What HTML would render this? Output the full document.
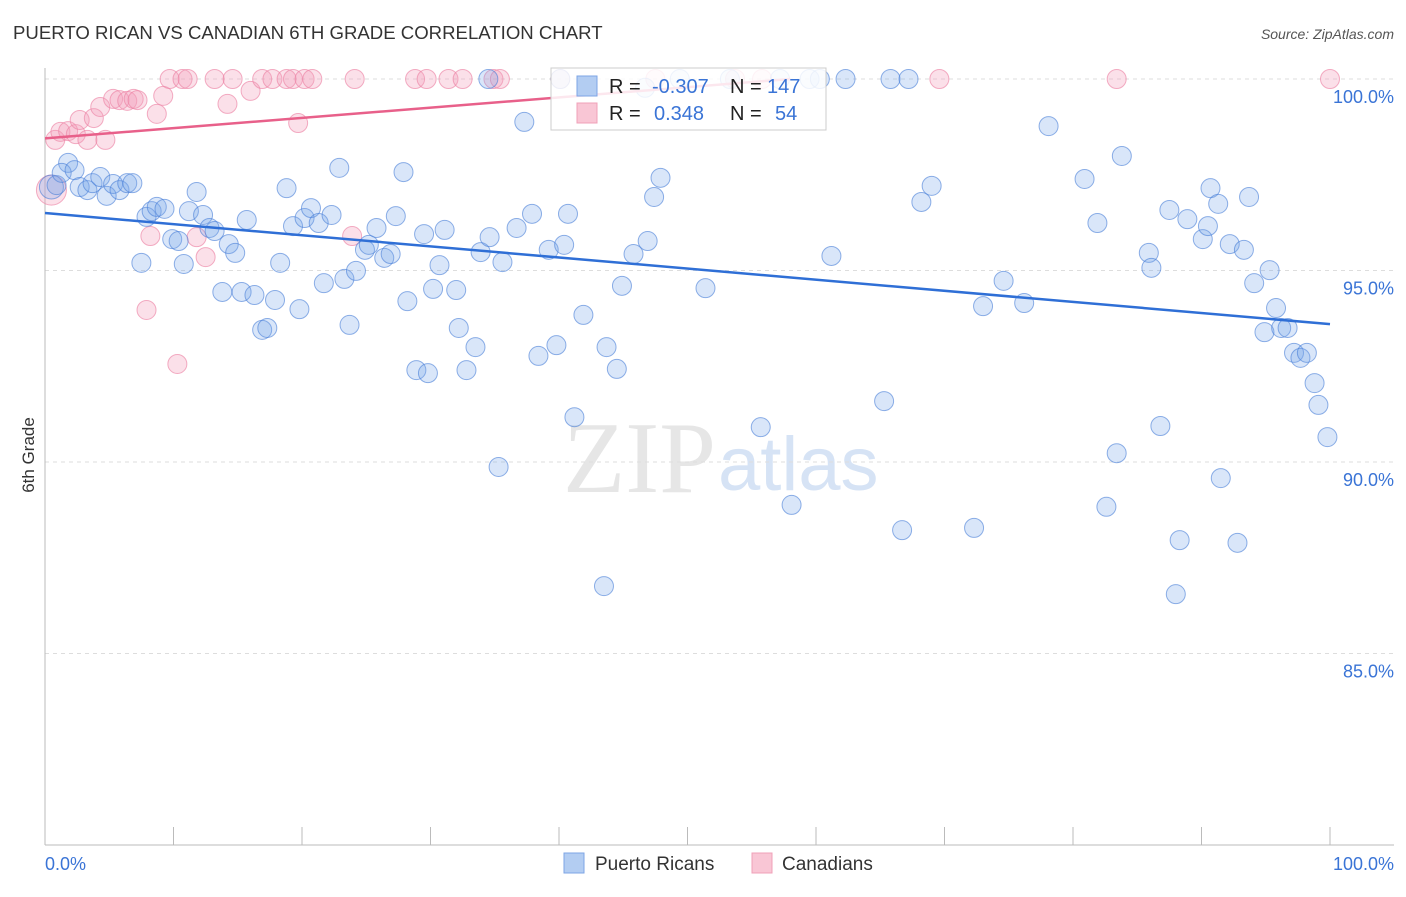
<!DOCTYPE html>
<html><head><meta charset="utf-8"><style>
body{margin:0;background:#fff;font-family:"Liberation Sans",sans-serif;}
</style></head><body>
<svg id="c" width="1406" height="892" xmlns="http://www.w3.org/2000/svg">
<text x="13" y="39" font-size="18.6" fill="#333">PUERTO RICAN VS CANADIAN 6TH GRADE CORRELATION CHART</text>
<text x="1394" y="39" font-size="14" fill="#555" font-style="italic" text-anchor="end">Source: ZipAtlas.com</text>
<text x="716" y="492" font-size="102" fill="#e6e6e6" text-anchor="end" font-family="Liberation Serif">ZIP</text>
<text x="718" y="490" font-size="76" fill="#d6e3f5">atlas</text>
<g id="grid"></g><g id="pts"></g><g id="trend"></g>
<text x="34" y="455" font-size="17" fill="#333" transform="rotate(-90 34 455)" text-anchor="middle">6th Grade</text>
<g>
<rect x="551" y="68" width="275" height="62" fill="#fff" fill-opacity="0.85" stroke="#ccc"/>
<rect x="577" y="76" width="20" height="20" fill="#b3cdf2" stroke="#7ea5e5"/>
<rect x="577" y="103" width="20" height="20" fill="#f9c6d5" stroke="#f0a0b8"/>
<text x="609" y="93" font-size="20" fill="#222">R = </text><text x="652" y="93" font-size="20" fill="#3a74d6">-0.307</text>
<text x="730" y="93" font-size="20" fill="#222">N = </text><text x="767" y="93" font-size="20" fill="#3a74d6">147</text>
<text x="609" y="120" font-size="20" fill="#222">R = </text><text x="654" y="120" font-size="20" fill="#3a74d6">0.348</text>
<text x="730" y="120" font-size="20" fill="#222">N = </text><text x="775" y="120" font-size="20" fill="#3a74d6">54</text>
</g>
<g><rect x="564" y="853" width="20" height="20" fill="#b3cdf2" stroke="#7ea5e5"/><text x="595" y="870" font-size="19" fill="#333">Puerto Ricans</text></g>
<g><rect x="752" y="853" width="20" height="20" fill="#f9c6d5" stroke="#f0a0b8"/><text x="782" y="870" font-size="19" fill="#333">Canadians</text></g>
</svg>
<script>
const yTicks=[100,95,90,85];
const xTickLabels=["0.0%","100.0%"];
const blueX=[0.5,0.9,1.8,1.3,2.3,2.7,3.3,3.7,4.3,4.8,5.3,5.8,6.4,6.8,7.5,7.9,8.3,8.7,9.3,9.9,10.4,10.8,11.2,11.8,12.3,12.8,13.2,13.8,14.3,14.8,15.3,15.7,16.3,16.9,17.3,17.9,18.3,18.8,19.3,19.8,20.2,20.7,21.3,21.7,22.3,22.9,23.3,23.7,24.2,24.9,25.2,25.8,26.4,26.9,27.3,27.9,28.2,28.9,29.5,29.8,30.2,30.7,31.1,32.0,32.2,32.8,33.5,33.9,34.5,34.6,35.3,35.6,36.7,37.3,37.9,38.4,39.2,39.8,40.4,40.7,41.2,41.9,43.5,43.7,44.5,44.9,45.8,46.9,47.4,47.9,51.4,55.7,58.1,61.2,62.3,65.3,65.8,66.7,67.2,68.2,69.0,72.3,73.0,74.6,76.2,78.1,80.9,81.9,82.6,83.4,83.8,85.9,86.1,86.8,87.5,88.0,88.3,88.9,90.1,90.5,90.7,91.3,91.5,92.2,92.8,93.3,93.7,94.1,94.9,95.3,95.8,96.2,96.7,97.2,97.7,98.2,98.8,99.1,99.8,40.1,46.7,49.4,53.3,57.2,59.5,60.3];
const blueY=[97.18,97.23,97.81,97.55,97.62,97.18,97.10,97.28,97.44,96.95,97.26,97.10,97.28,97.28,95.20,96.40,96.55,96.66,96.61,95.82,95.77,95.17,96.55,97.05,96.45,96.11,96.03,94.44,95.69,95.46,94.44,96.32,94.36,93.45,93.50,94.23,95.20,97.15,96.16,93.99,96.37,96.63,96.24,94.67,96.45,97.68,94.78,93.58,94.99,95.54,95.67,96.11,95.33,95.43,96.42,97.57,94.20,92.40,95.95,92.32,94.52,95.14,96.06,94.49,93.50,92.40,93.00,95.48,100,95.87,89.87,95.22,96.11,98.88,96.48,92.77,95.54,93.05,95.67,96.48,91.17,93.84,86.76,93.00,92.43,94.60,95.43,95.77,96.92,97.42,94.54,90.91,88.88,95.38,100,91.59,100,88.22,100,96.79,97.21,88.28,94.07,94.73,94.15,98.77,97.39,96.24,88.83,90.23,97.99,95.46,95.07,90.94,96.58,86.55,87.96,96.34,95.82,96.16,97.15,96.74,89.58,95.69,87.89,95.54,96.92,94.67,93.39,95.01,94.02,93.50,93.50,92.85,92.72,92.85,92.06,91.49,90.65,100,99.77,100,100,100,100,100];
const pinkX=[0.5,0.8,1.2,1.8,2.4,2.7,3.3,3.8,4.3,4.7,5.3,5.8,6.4,6.9,7.2,8.2,7.9,8.7,9.2,9.7,10.3,10.7,11.1,11.8,12.5,13.2,14.2,14.6,16.0,16.9,17.7,18.8,19.3,19.7,20.2,20.8,23.9,24.1,28.8,29.7,31.4,32.5,34.9,35.4,40.1,47.5,53.7,55.8,69.6,83.4,100];
const pinkY=[97.10,98.41,98.62,98.64,98.56,98.93,98.41,98.98,99.27,98.41,99.48,99.45,99.43,99.48,99.45,95.90,93.97,99.09,99.56,100,92.56,100,100,95.87,95.35,100,99.35,100,99.69,100,100,100,100,98.85,100,100,95.90,100,100,100,100,100,100,100,100,100,100,100,100,100,100];
const blueTrendX=[0,100];
const blueTrendY=[96.5,93.6];
const pinkTrendX=[0,58];
const pinkTrendY=[98.45,100];
const NS="http://www.w3.org/2000/svg";
const X=v=>45+v*12.85;
const Y=v=>79+(100-v)*38.3;
function mk(t,a,p){const e=document.createElementNS(NS,t);for(const k in a)e.setAttribute(k,a[k]);p.appendChild(e);return e;}
const grid=document.getElementById('grid');
yTicks.forEach(v=>{
  const l=mk('line',{x1:45,x2:1394,y1:Y(v),y2:Y(v),stroke:'#ddd','stroke-dasharray':'4 4'},grid);
  
  
  const t=mk('text',{x:1394,y:Y(v)+24,'font-size':18,fill:'#3a74d6','text-anchor':'end'},grid);
  t.textContent=v.toFixed(1)+'%';
  
  
});
const ax=mk('line',{x1:45,x2:45,y1:68,y2:845,stroke:'#bbb'},grid);


const bx=mk('line',{x1:45,x2:1394,y1:845,y2:845,stroke:'#bbb'},grid);


for(let i=0;i<=10;i++){const t=mk('line',{x1:X(i*10),x2:X(i*10),y1:827,y2:845,stroke:'#bbb'},grid);

}
[[0,'start'],[100,'end']].forEach((p,i)=>{const t=mk('text',{x:p[0]?1394:45,y:870,'font-size':18,fill:'#3a74d6','text-anchor':p[1]},grid);t.textContent=xTickLabels[i];

});
const pts=document.getElementById('pts');
pinkX.forEach((x,i)=>{const c=mk('circle',{cx:X(x),cy:Y(pinkY[i]),r:i==0?15:9.5,fill:'rgba(244,160,188,0.32)',stroke:'rgba(236,130,165,0.65)','stroke-width':1},pts);

});
blueX.forEach((x,i)=>{const c=mk('circle',{cx:X(x),cy:Y(blueY[i]),r:i==0?12:9.5,fill:'rgba(120,165,235,0.28)',stroke:'rgba(70,125,215,0.6)','stroke-width':1},pts);

});
const tr=document.getElementById('trend');
const bl=mk('line',{x1:X(blueTrendX[0]),y1:Y(blueTrendY[0]),x2:X(blueTrendX[1]),y2:Y(blueTrendY[1]),stroke:'#2f6fd6','stroke-width':2.5},tr);


const pl=mk('line',{x1:X(pinkTrendX[0]),y1:Y(pinkTrendY[0]),x2:X(pinkTrendX[1]),y2:Y(pinkTrendY[1]),stroke:'#e8608a','stroke-width':2.5},tr);


</script>
</body></html>
